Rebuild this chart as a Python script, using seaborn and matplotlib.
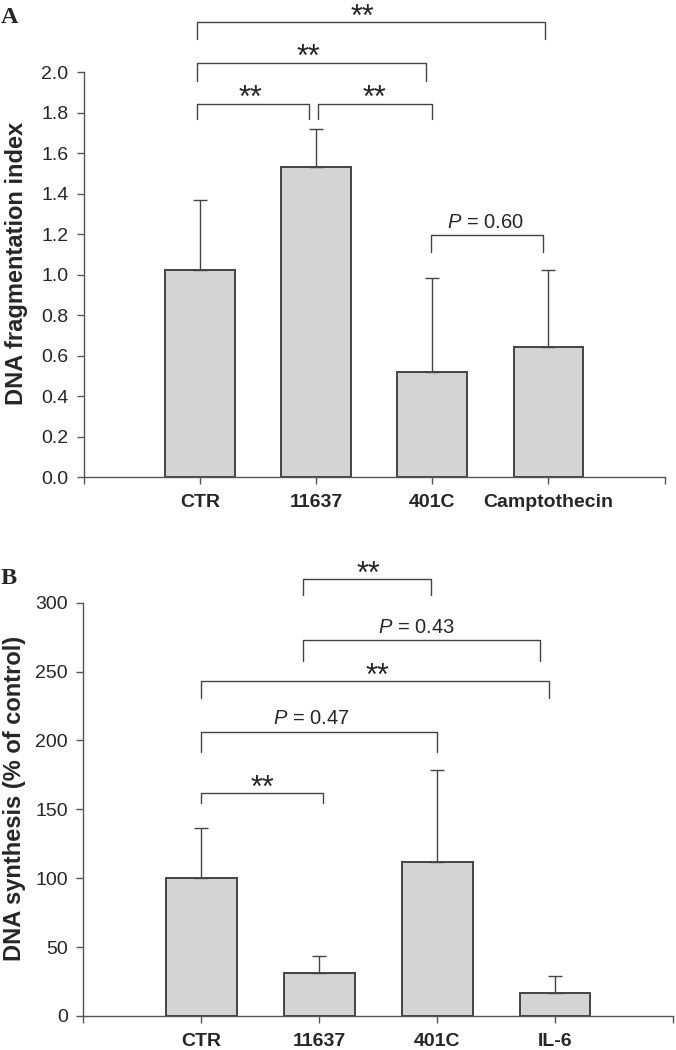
import matplotlib
matplotlib.use("Agg")
import matplotlib.pyplot as plt
import seaborn as sns
import pandas as pd

# Panel A: DNA fragmentation index
cats_a = ["CTR", "11637", "401C", "Camptothecin"]
vals_a = [1.02, 1.53, 0.52, 0.64]
err_a = [0.35, 0.19, 0.465, 0.38]

# Panel B: DNA synthesis (% of control)
cats_b = ["CTR", "11637", "401C", "IL-6"]
vals_b = [100.0, 31.4, 111.8, 17.0]
err_b = [36.7, 11.9, 66.7, 12.3]

# significance brackets: (x_start, x_end, line_y, leg_bottom_y, text_x, label)
brackets_a = [
    (-0.03, 2.97, 2.246, 2.161, 1.40, "**"),
    (-0.03, 1.95, 2.046, 1.956, 0.93, "**"),
    (-0.03, 0.94, 1.844, 1.767, 0.43, "**"),
    (1.02, 2.00, 1.844, 1.767, 1.50, "**"),
    (1.99, 2.95, 1.195, 1.113, 2.46, "$P$ = 0.60"),
]
brackets_b = [
    (0.86, 1.95, 317.0, 305.5, 1.42, "**"),
    (0.86, 2.87, 272.6, 257.6, 1.82, "$P$ = 0.43"),
    (0.00, 2.95, 243.1, 230.5, 1.49, "**"),
    (0.00, 2.00, 206.3, 191.4, 0.93, "$P$ = 0.47"),
    (0.00, 1.03, 161.6, 154.4, 0.52, "**"),
]

sns.set_style("ticks")
plt.rcParams["font.family"] = ["Liberation Sans", "DejaVu Sans"]
plt.rcParams["mathtext.fontset"] = "custom"
plt.rcParams["mathtext.it"] = "Liberation Sans:italic"
plt.rcParams["mathtext.rm"] = "Liberation Sans"

BAR = "#d4d4d4"
EDGE = "#444444"
AXC = "#555555"

fig = plt.figure(figsize=(6.76, 10.5), dpi=100)
ax_a = fig.add_axes([0.1241, 0.5457, 0.8589, 0.3857])
ax_b = fig.add_axes([0.1232, 0.0324, 0.8724, 0.3936])


def draw_panel(ax, cats, vals, errs, ymax, yticks, yfmt, ylabel, brackets):
    df = pd.DataFrame({"group": cats, "value": vals})
    sns.barplot(data=df, x="group", y="value", color=BAR, width=0.6,
                edgecolor=EDGE, linewidth=1.4, saturation=1, ax=ax, errorbar=None)
    ax.errorbar(range(len(cats)), vals, yerr=[[0] * len(errs), errs], fmt="none",
                ecolor=EDGE, elinewidth=1.0, capsize=5, capthick=1.0, zorder=1)
    ax.set_xlim(-1, 4)
    ax.set_ylim(0, ymax)
    ax.set_xticks(range(-1, 5))
    ax.set_xticklabels([""] + cats + [""], fontweight="bold", fontsize=14)
    ax.set_yticks(yticks)
    ax.set_yticklabels([yfmt.format(t) for t in yticks], fontsize=14)
    ax.tick_params(axis="x", length=5, width=1, color=AXC, pad=7)
    ax.tick_params(axis="y", length=5, width=1, color=AXC, pad=6)
    ax.set_xlabel("")
    ax.set_ylabel(ylabel, fontsize=17, fontweight="bold")
    ax.yaxis.set_label_coords(-0.097, 0.527)
    for side in ["top", "right"]:
        ax.spines[side].set_visible(False)
    for side in ["left", "bottom"]:
        ax.spines[side].set_color(AXC)
        ax.spines[side].set_linewidth(1.0)
    for x1, x2, yl, yb, tx, label in brackets:
        ax.plot([x1, x1, x2, x2], [yb, yl, yl, yb], color=EDGE, lw=1.0, clip_on=False)
        if label == "**":
            ax.annotate(label, (tx, yl), xytext=(0, -2.5), textcoords="offset points",
                        ha="center", va="baseline", fontsize=22, annotation_clip=False)
        else:
            ax.annotate(label, (tx, yl), xytext=(0, 5.4), textcoords="offset points",
                        ha="center", va="baseline", fontsize=14.5, annotation_clip=False)


draw_panel(ax_a, cats_a, vals_a, err_a, 2.0, [0, 0.2, 0.4, 0.6, 0.8, 1.0, 1.2, 1.4, 1.6, 1.8, 2.0],
           "{:.1f}", "DNA fragmentation index", brackets_a)
draw_panel(ax_b, cats_b, vals_b, err_b, 300, [0, 50, 100, 150, 200, 250, 300],
           "{:.0f}", "DNA synthesis (% of control)", brackets_b)

serif = ["Liberation Serif", "DejaVu Serif"]
fig.text(0.001, 0.978, "A", fontsize=17.5, fontweight="bold", family=serif,
         va="baseline", ha="left")
fig.text(0.001, 0.4438, "B", fontsize=17.5, fontweight="bold", family=serif,
         va="baseline", ha="left")

fig.savefig("out.png", dpi=100)
